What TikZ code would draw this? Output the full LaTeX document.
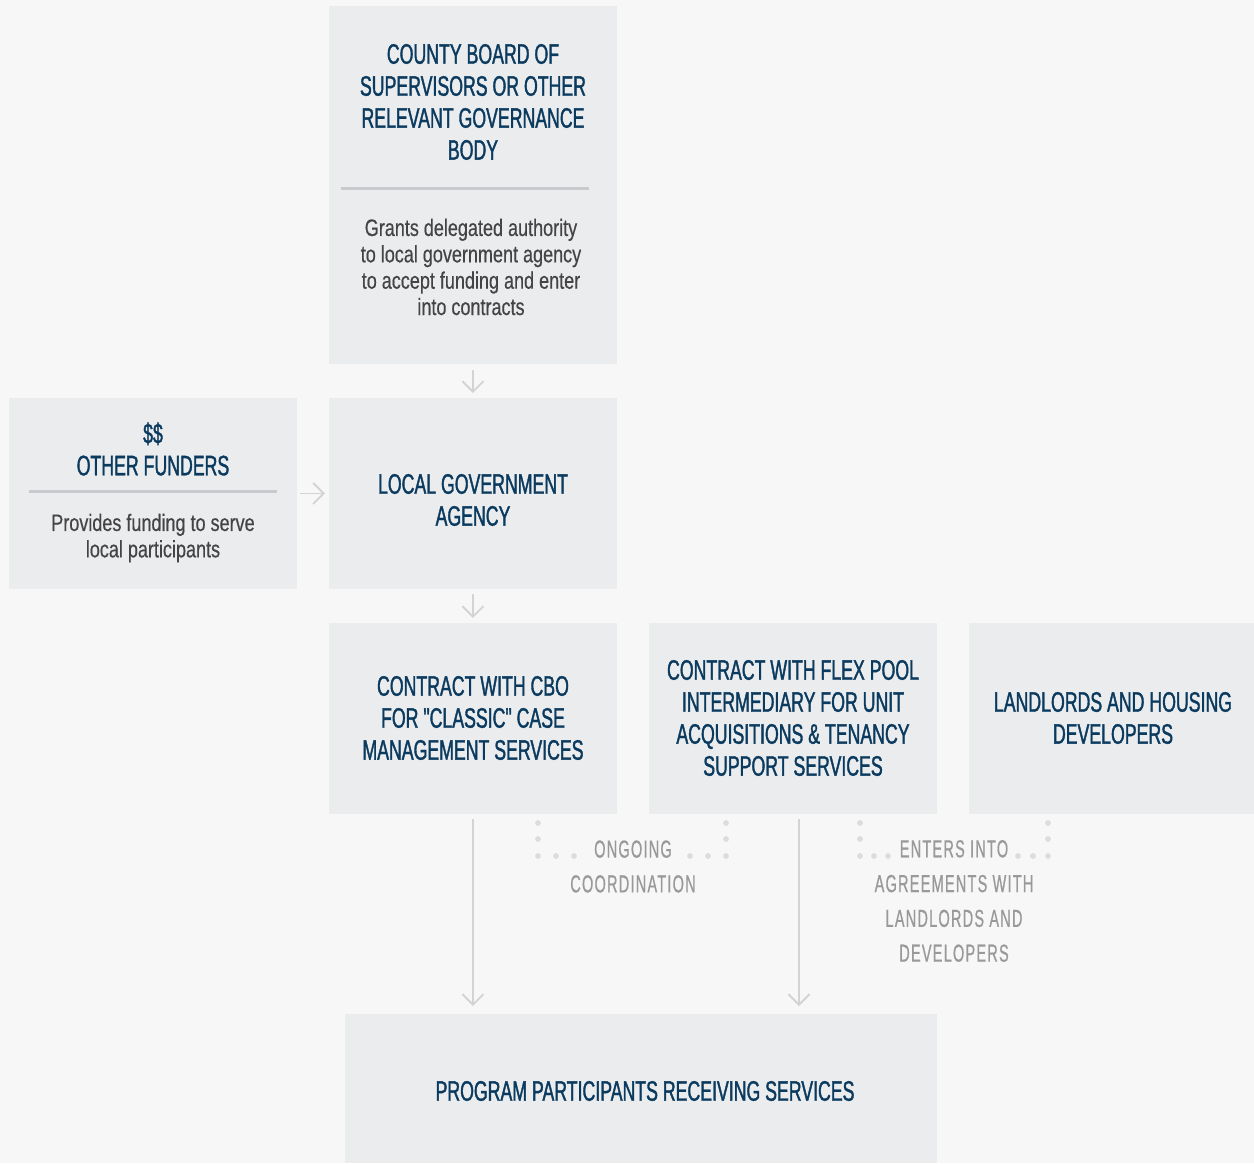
\documentclass[tikz,border=0pt]{standalone}
\usepackage{fontspec}
\setmainfont{Liberation Sans}
\newfontfamily\titlefont{Liberation Sans}[FakeStretch=0.63,FakeBold=1.3]
\newfontfamily\bodyfont{Liberation Sans}[FakeStretch=0.76,FakeBold=0.4]
\newfontfamily\labelfont{Liberation Sans}[FakeStretch=0.59,LetterSpace=5,FakeBold=0.6]
\usetikzlibrary{arrows.meta}
\definecolor{bg}{HTML}{F7F7F7}
\definecolor{boxfill}{HTML}{EBECEE}
\definecolor{navy}{HTML}{0B3A5F}
\definecolor{bodygray}{HTML}{444444}
\definecolor{labelgray}{HTML}{999999}
\definecolor{arrowgray}{HTML}{D3D3D3}
\definecolor{dotgray}{HTML}{DCDCDC}
\definecolor{rulegray}{HTML}{C9CACD}
\begin{document}
\begin{tikzpicture}[x=0.02cm,y=-0.02cm,
  box/.style={fill=boxfill, draw=none, anchor=north west, inner sep=0, outer sep=0, minimum width=5.76cm, minimum height=3.82cm},
  title/.style={font=\titlefont\fontsize{16}{18.2}\selectfont, text=navy, align=center, inner sep=0},
  desc/.style={font=\bodyfont\fontsize{13.5}{15}\selectfont, text=bodygray, align=center, inner sep=0},
  lbl/.style={font=\labelfont\fontsize{14}{19.8}\selectfont, text=labelgray, align=center, inner sep=0},
  arr/.style={draw=arrowgray, line width=1.1pt, -{Straight Barb[length=6pt,width=12pt,line width=1.1pt]}},
  divider/.style={draw=rulegray, line width=0.06cm},
  dot/.style={fill=dotgray}
]
\fill[bg] (0,0) rectangle (1254,1163);
\useasboundingbox (0,0) rectangle (1254,1163);

% boxes
\node[box, minimum height=7.16cm] (county) at (329,6) {};
\node[box] (funders) at (9,398) {};
\node[box] (local) at (329,398) {};
\node[box] (cbo) at (329,623) {};
\node[box] (flex) at (649,623) {};
\node[box, minimum width=5.70cm] (land) at (969,623) {};
\node[box, minimum width=11.84cm, minimum height=2.98cm] (part) at (345,1014) {};

% texts
\node[title] (countyT) at (473,102) {COUNTY BOARD OF\\SUPERVISORS OR OTHER\\RELEVANT GOVERNANCE\\BODY};
\draw[divider] (341,188) -- (589,188);
\node[desc] (countyD) at (471,267) {Grants delegated authority\\to local government agency\\to accept funding and enter\\into contracts};

\node[title] (fundersT) at (153,449) {\$\$\\OTHER FUNDERS};
\draw[divider] (29,491) -- (277,491);
\node[desc] (fundersD) at (153,538) {Provides funding to serve\\local participants};

\node[title] (localT) at (473,500) {LOCAL GOVERNMENT\\AGENCY};
\node[title] (cboT) at (473,718) {CONTRACT WITH CBO\\FOR "CLASSIC" CASE\\MANAGEMENT SERVICES};
\node[title] (flexT) at (793,718) {CONTRACT WITH FLEX POOL\\INTERMEDIARY FOR UNIT\\ACQUISITIONS \& TENANCY\\SUPPORT SERVICES};
\node[title] (landT) at (1113,718) {LANDLORDS AND HOUSING\\DEVELOPERS};
\node[title] (partT) at (645,1091) {PROGRAM PARTICIPANTS RECEIVING SERVICES};

% connectors
\draw[arr, shorten <=0.12cm, shorten >=0.1cm] (county.south) -- (local.north);
\draw[arr, shorten <=0.06cm, shorten >=0.08cm] (funders.east) -- (local.west);
\draw[arr, shorten <=0.1cm, shorten >=0.1cm] (local.south) -- (cbo.north);
\draw[arr, shorten <=0.1cm, shorten >=0.16cm] (cbo.south) -- (cbo.south |- part.north);
\coordinate (flexout) at (799,814);
\draw[arr, shorten <=0.1cm, shorten >=0.16cm] (flexout) -- (flexout |- part.north);

% ongoing coordination
\foreach \p in {(538,823),(538,839),(538,856),(556,856),(574,856),(726,823),(726,839),(726,856),(708,856),(690,856)}
  \fill[dot] \p circle (0.058cm);
\node[lbl] (ongoing) at (633,866.5) {ONGOING\\COORDINATION};

% enters into agreements
\foreach \p in {(860,823),(860,839),(860,856),(874,856),(888,856),(1048,823),(1048,839),(1048,856),(1033,856),(1018,856)}
  \fill[dot] \p circle (0.058cm);
\node[lbl] (enters) at (954,901) {ENTERS INTO\\AGREEMENTS WITH\\LANDLORDS AND\\DEVELOPERS};
\end{tikzpicture}
\end{document}
